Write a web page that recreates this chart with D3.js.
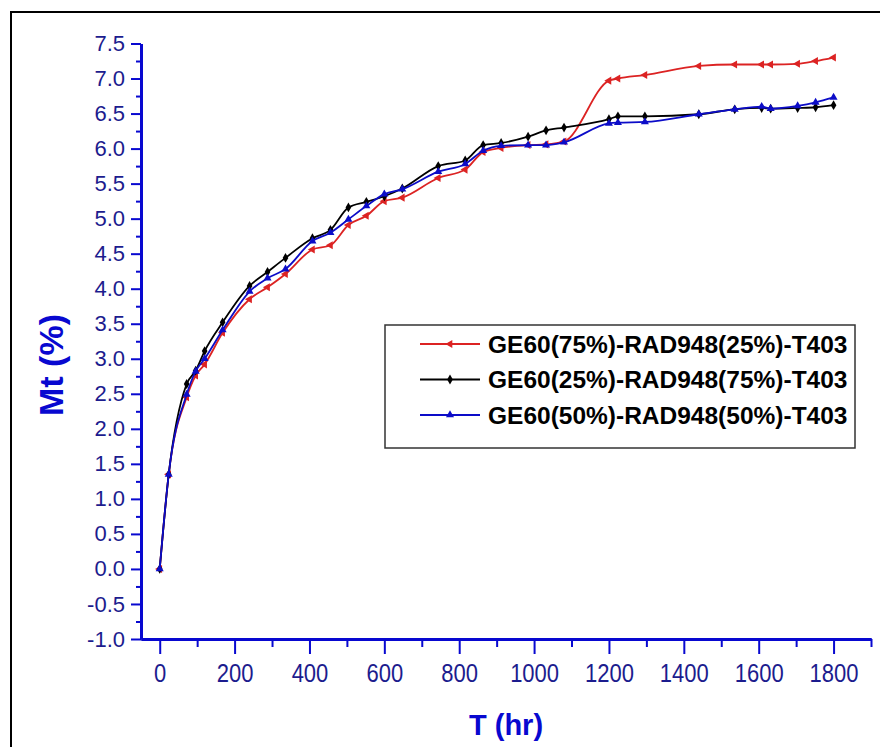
<!DOCTYPE html>
<html><head><meta charset="utf-8">
<script src="https://cdn.jsdelivr.net/npm/d3@7"></script>
<style>body{margin:0;background:#fff}</style>
</head><body><svg id="c" width="880" height="747"></svg>
<script>
// ---- data ----
const hours = [0, 24, 72, 96, 120, 168, 240, 288, 336, 408, 456, 504, 552, 600, 648, 744, 816, 864, 912, 984, 1032, 1080, 1200, 1224, 1296, 1440, 1536, 1608, 1632, 1704, 1752, 1800];
const mt75_25 = [0, 1.35, 2.45, 2.76, 2.92, 3.37, 3.85, 4.02, 4.21, 4.56, 4.62, 4.91, 5.04, 5.25, 5.30, 5.58, 5.70, 5.95, 6.01, 6.05, 6.06, 6.10, 6.97, 7.00, 7.05, 7.18, 7.20, 7.20, 7.20, 7.21, 7.25, 7.30];
const mt25_75 = [0, 1.35, 2.64, 2.83, 3.11, 3.52, 4.04, 4.24, 4.44, 4.72, 4.84, 5.16, 5.24, 5.32, 5.43, 5.75, 5.83, 6.05, 6.08, 6.17, 6.26, 6.30, 6.42, 6.46, 6.46, 6.49, 6.56, 6.58, 6.57, 6.58, 6.59, 6.62];
const mt50_50 = [0, 1.35, 2.49, 2.82, 3.00, 3.41, 3.96, 4.15, 4.28, 4.68, 4.80, 4.99, 5.18, 5.35, 5.42, 5.67, 5.78, 5.97, 6.04, 6.05, 6.05, 6.09, 6.36, 6.37, 6.38, 6.49, 6.56, 6.60, 6.57, 6.61, 6.66, 6.73];
const seriesNames = ["GE60(75%)-RAD948(25%)-T403", "GE60(25%)-RAD948(75%)-T403", "GE60(50%)-RAD948(50%)-T403"];
const xTickValues = [0, 200, 400, 600, 800, 1000, 1200, 1400, 1600, 1800];
const xMinorValues = [100, 300, 500, 700, 900, 1100, 1300, 1500, 1700, 1900];
const yTickValues = [-1.0, -0.5, 0.0, 0.5, 1.0, 1.5, 2.0, 2.5, 3.0, 3.5, 4.0, 4.5, 5.0, 5.5, 6.0, 6.5, 7.0, 7.5];
const yMinorValues = [-0.75, -0.25, 0.25, 0.75, 1.25, 1.75, 2.25, 2.75, 3.25, 3.75, 4.25, 4.75, 5.25, 5.75, 6.25, 6.75, 7.25];
const xTitle = "T (hr)";
const yTitle = "Mt (%)";

// ---- styles ----
const colors = ["#dc2323", "#000000", "#0c0cc8"];
const symbols = [d3.symbolTriangle, d3.symbolDiamond, d3.symbolTriangle];
const symRot = [-90, 0, 0];
const axisColor = "#0808d0";
const labelColor = "#1c1c8e";

const svg = d3.select("#c");
svg.append("rect").attr("width", 880).attr("height", 747).attr("fill", "#fff");
svg.append("rect").attr("x", 11).attr("y", 12).attr("width", 900).attr("height", 800)
  .attr("fill", "none").attr("stroke", "#000").attr("stroke-width", 2);

const x = d3.scaleLinear().domain([-50, 1900]).range([141, 871]);
const y = d3.scaleLinear().domain([-1, 7.5]).range([639, 43.5]);

function styleAxis(g, w) {
  g.select(".domain").attr("stroke", axisColor).attr("stroke-width", 3);
  g.selectAll(".tick line").attr("stroke", axisColor).attr("stroke-width", w);
}

// minor ticks
svg.append("g").attr("transform", "translate(0,639)")
  .call(d3.axisBottom(x).tickValues(xMinorValues).tickSize(8).tickSizeOuter(0).tickFormat(""))
  .call(g => styleAxis(g, 2));
svg.append("g").attr("transform", "translate(141,0)")
  .call(d3.axisLeft(y).tickValues(yMinorValues).tickSize(5).tickSizeOuter(0).tickFormat(""))
  .call(g => styleAxis(g, 2));

// major axes
const gx = svg.append("g").attr("transform", "translate(0,639)")
  .call(d3.axisBottom(x).tickValues(xTickValues).tickSize(15).tickPadding(10).tickSizeOuter(0).tickFormat(d3.format("d")))
  .call(g => styleAxis(g, 2));
gx.selectAll(".tick text").attr("fill", labelColor)
  .style("font-family", "Liberation Sans, Arial, sans-serif").style("font-size", "25px")
  .attr("transform", "scale(0.88,1)");

const fmtY = v => d3.format(".1f")(v).replace("\u2212", "-");
const gy = svg.append("g").attr("transform", "translate(141,0)")
  .call(d3.axisLeft(y).tickValues(yTickValues).tickSize(10).tickPadding(6).tickSizeOuter(0).tickFormat(fmtY))
  .call(g => styleAxis(g, 2));
gy.selectAll(".tick text").attr("fill", labelColor)
  .style("font-family", "Liberation Sans, Arial, sans-serif").style("font-size", "22px");

// titles
svg.append("text").attr("x", 506).attr("y", 735).attr("text-anchor", "middle")
  .attr("fill", axisColor).style("font-family", "Liberation Sans, Arial, sans-serif")
  .style("font-weight", "bold").style("font-size", "29px").text(xTitle);
svg.append("text").attr("transform", "translate(63,365) rotate(-90)").attr("text-anchor", "middle")
  .attr("fill", axisColor).style("font-family", "Liberation Sans, Arial, sans-serif")
  .style("font-weight", "bold").style("font-size", "34px").text(yTitle);

// series
const seriesValues = [mt75_25, mt25_75, mt50_50];
const line = d3.line().x(d => x(d[0])).y(d => y(d[1])).curve(d3.curveMonotoneX);
seriesValues.forEach((vals, i) => {
  const pts = hours.map((h, k) => [h, vals[k]]);
  const g = svg.append("g");
  g.append("path").datum(pts).attr("d", line).attr("fill", "none")
    .attr("stroke", colors[i]).attr("stroke-width", 1.8);
  g.selectAll("path.m").data(pts).enter().append("path").attr("class", "m")
    .attr("d", d3.symbol().type(symbols[i]).size(28))
    .attr("transform", d => `translate(${x(d[0])},${y(d[1])}) rotate(${symRot[i]})`)
    .attr("fill", colors[i]);
});

// legend
const lg = svg.append("g");
lg.append("rect").attr("x", 385).attr("y", 325).attr("width", 470).attr("height", 123)
  .attr("fill", "#fff").attr("stroke", "#333").attr("stroke-width", 1.5);
seriesNames.forEach((name, i) => {
  const cy = 344 + i * 35.5;
  lg.append("line").attr("x1", 420).attr("x2", 480).attr("y1", cy).attr("y2", cy)
    .attr("stroke", colors[i]).attr("stroke-width", 1.8);
  lg.append("path").attr("d", d3.symbol().type(symbols[i]).size(28))
    .attr("transform", `translate(450,${cy}) rotate(${symRot[i]})`).attr("fill", colors[i]);
  lg.append("text").attr("x", 488).attr("y", cy + 8.5).attr("fill", "#000")
    .style("font-family", "Liberation Sans, Arial, sans-serif").style("font-weight", "bold")
    .style("font-size", "24.5px").text(name);
});
</script></body></html>
